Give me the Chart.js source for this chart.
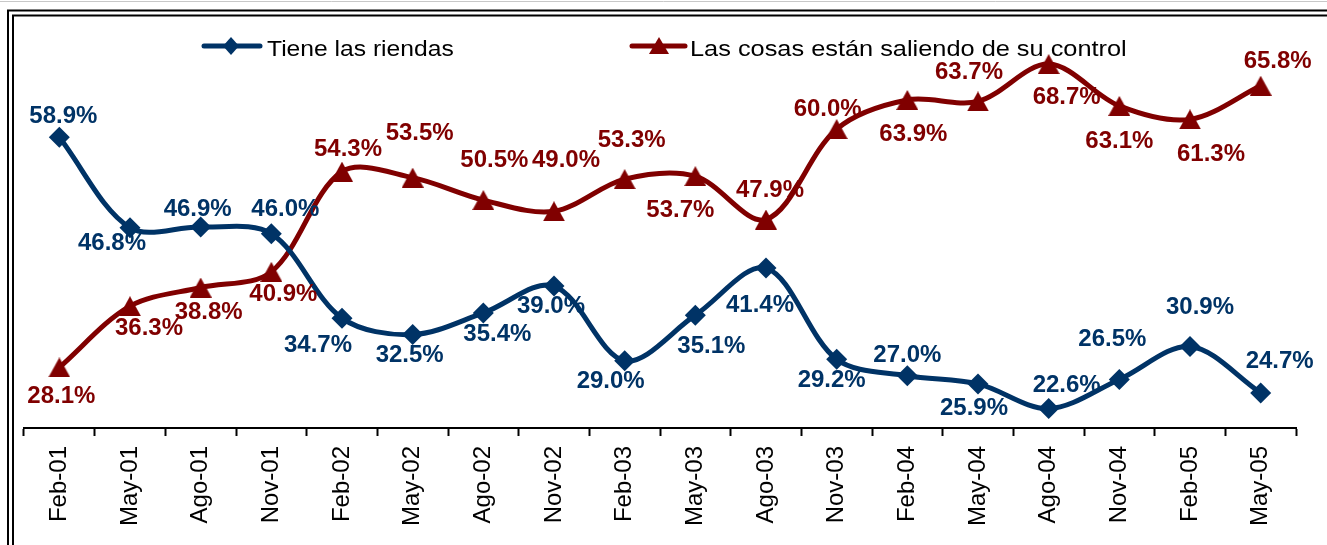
<!DOCTYPE html>
<html>
<head>
<meta charset="utf-8">
<script src="https://cdn.jsdelivr.net/npm/chart.js"></script>
<style>
  html, body { margin: 0; padding: 0; background: #fff; }
  #wrap { width: 1327px; height: 545px; }
</style>
</head>
<body>
<div id="wrap"><canvas id="chart" width="1327" height="545"></canvas></div>
<script>
const labels = ["Feb-01", "May-01", "Ago-01", "Nov-01", "Feb-02", "May-02", "Ago-02", "Nov-02", "Feb-03",
                "May-03", "Ago-03", "Nov-03", "Feb-04", "May-04", "Ago-04", "Nov-04", "Feb-05", "May-05"];
const riendas = [58.9, 46.8, 46.9, 46.0, 34.7, 32.5, 35.4, 39.0, 29.0, 35.1, 41.4, 29.2, 27.0, 25.9, 22.6, 26.5, 30.9, 24.7];
const control = [28.1, 36.3, 38.8, 40.9, 54.3, 53.5, 50.5, 49.0, 53.3, 53.7, 47.9, 60.0, 63.9, 63.7, 68.7, 63.1, 61.3, 65.8];

const seriesNames = ["Tiene las riendas", "Las cosas están saliendo de su control"];

// where each value label sits relative to its point (px)
const riendasLabelPos = [[4,-21],[-18,16],[-3,-18],[14,-24],[-24,27],[-3,21],[14,21],[-3,20],[-14,21],
                         [16,31],[-6,37],[-5,21],[0,-20],[-4,24],[18,-23],[-7,-40],[10,-39],[19,-32]];
const controlLabelPos = [[2,29],[19,22],[8,25],[12,23],[6,-22],[7,-44],[11,-40],[12,-51],[7,-39],
                         [-15,34],[4,-29],[-9,-20],[6,34],[-9,-29],[18,33],[0,35],[21,35],[17,-24]];

const BLUE = "#003366";
const RED = "#800000";
const FONT = "'Liberation Sans', Arial, sans-serif";

function triangleMarker(w, h, color) {
    const c = document.createElement("canvas");
    c.width = w;
    c.height = h;
    const g = c.getContext("2d");
    g.fillStyle = color;
    g.beginPath();
    g.moveTo(w / 2, 0);
    g.lineTo(w, h);
    g.lineTo(0, h);
    g.closePath();
    g.fill();
    return c;
}

const tri = triangleMarker(22, 20, RED);

// white page + double frame + custom legend
const framePlugin = {
    id: "frame",
    beforeDraw(chart) {
        const ctx = chart.ctx;
        ctx.save();
        ctx.fillStyle = "#fff";
        ctx.fillRect(0, 0, chart.width, chart.height);
        ctx.strokeStyle = "#c8c8c8";
        ctx.lineWidth = 1;
        ctx.beginPath();
        ctx.moveTo(0, 1.5); ctx.lineTo(chart.width, 1.5);
        ctx.stroke();
        ctx.strokeStyle = "#000";
        ctx.lineWidth = 2;
        ctx.beginPath();
        ctx.moveTo(8, chart.height); ctx.lineTo(8, 10.5); ctx.lineTo(chart.width, 10.5);
        ctx.moveTo(13, chart.height); ctx.lineTo(13, 15.5); ctx.lineTo(chart.width, 15.5);
        ctx.stroke();
        ctx.restore();
    },
    afterDraw(chart) {
        const ctx = chart.ctx;
        ctx.save();
        ctx.lineCap = "round";
        ctx.lineWidth = 5;
        // blue entry
        ctx.strokeStyle = BLUE;
        ctx.beginPath(); ctx.moveTo(204, 46); ctx.lineTo(260, 46); ctx.stroke();
        ctx.fillStyle = BLUE;
        ctx.beginPath();
        ctx.moveTo(231, 37); ctx.lineTo(239, 46); ctx.lineTo(231, 55); ctx.lineTo(223, 46);
        ctx.closePath(); ctx.fill();
        // red entry
        ctx.strokeStyle = RED;
        ctx.beginPath(); ctx.moveTo(632, 46); ctx.lineTo(685, 46); ctx.stroke();
        ctx.drawImage(triangleMarker(20, 17, RED), 649, 37);

        ctx.fillStyle = "#000";
        ctx.font = "22px " + FONT;
        ctx.textBaseline = "alphabetic";
        ctx.textAlign = "left";
        [[267, seriesNames[0], 1.12], [690, seriesNames[1], 1.152]].forEach(([x, t, sx]) => {
            ctx.save();
            ctx.translate(x, 56);
            ctx.scale(sx, 1);
            ctx.fillText(t, 0, 0);
            ctx.restore();
        });
        ctx.restore();
    }
};

const valueLabels = {
    id: "valueLabels",
    afterDatasetsDraw(chart) {
        const ctx = chart.ctx;
        const offsets = [riendasLabelPos, controlLabelPos];
        ctx.save();
        ctx.font = "bold 24px " + FONT;
        ctx.textAlign = "center";
        ctx.textBaseline = "middle";
        chart.data.datasets.forEach((ds, i) => {
            const meta = chart.getDatasetMeta(i);
            ctx.fillStyle = ds.borderColor;
            meta.data.forEach((pt, j) => {
                const [dx, dy] = offsets[i][j];
                ctx.fillText(ds.data[j].toFixed(1) + "%", pt.x + dx, pt.y + dy);
            });
        });
        ctx.restore();
    }
};

const ctx = document.getElementById("chart").getContext("2d");

new Chart(ctx, {
    type: "line",
    data: {
        labels: labels,
        datasets: [
            {
                label: seriesNames[0],
                data: riendas,
                borderColor: BLUE,
                backgroundColor: BLUE,
                borderWidth: 5,
                tension: 0.33,
                fill: false,
                pointStyle: "rectRot",
                pointRadius: 10.5,
                pointBorderWidth: 0,
                pointBackgroundColor: BLUE
            },
            {
                label: seriesNames[1],
                data: control,
                borderColor: RED,
                backgroundColor: RED,
                borderWidth: 5,
                tension: 0.33,
                fill: false,
                pointStyle: tri,
                pointRadius: 10,
                pointBorderWidth: 0
            }
        ]
    },
    options: {
        responsive: false,
        animation: false,
        layout: { padding: { left: 24, right: 31, top: 17, bottom: 0 } },
        scales: {
            x: {
                offset: true,
                grid: {
                    drawOnChartArea: false,
                    drawTicks: true,
                    tickLength: 8,
                    tickWidth: 2,
                    tickColor: "#000",
                    offset: true
                },
                border: { color: "#000", width: 2 },
                ticks: {
                    color: "#000",
                    font: { family: FONT, size: 24 },
                    minRotation: 90,
                    maxRotation: 90,
                    padding: 10,
                    autoSkip: false
                },
                afterFit: (scale) => { scale.height = 117; }
            },
            y: { display: false, min: 20, max: 75 }
        },
        plugins: {
            legend: { display: false },
            tooltip: { enabled: false }
        }
    },
    plugins: [framePlugin, valueLabels]
});
</script>
</body>
</html>
